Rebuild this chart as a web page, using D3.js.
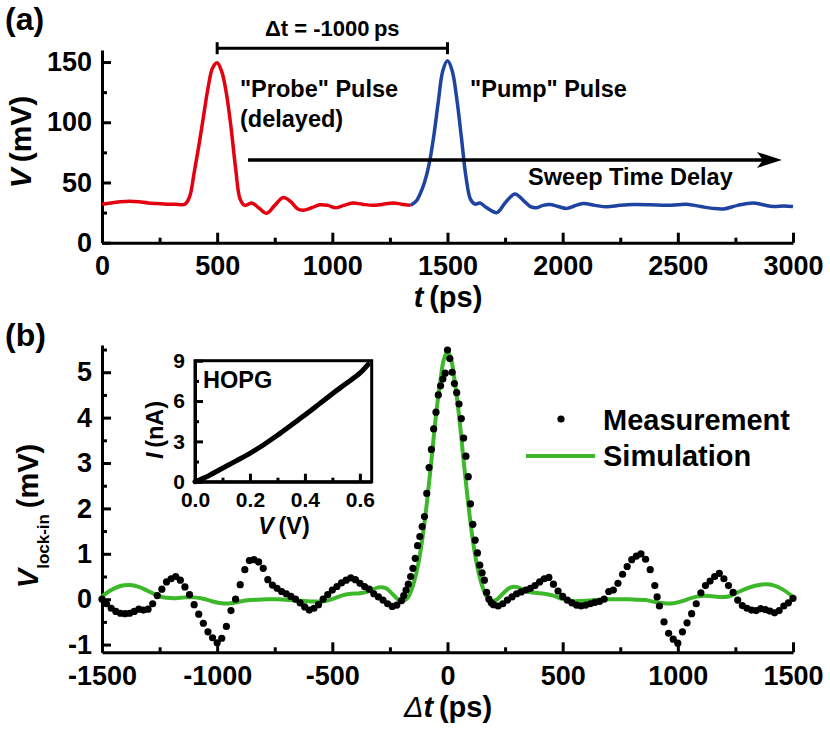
<!DOCTYPE html>
<html>
<head>
<meta charset="utf-8">
<script src="https://cdn.jsdelivr.net/npm/d3@7"></script>
<style>
  html, body { margin: 0; padding: 0; background: #fff; }
  svg { display: block; }
</style>
</head>
<body>
<script>
// ---------------- DATA ----------------
// Panel (a): oscilloscope trace, t (ps) vs V (mV)
const probeT = [0,40,80,120,160,200,240,280,320,360,380,400,420,440,460,480,500,520,540,560,580,600,620,650,680,715,750,787,820,850,873,910,946,980,1016,1050,1089,1130,1176,1220,1264,1300,1340];
const probeV = [32,33,34,34.5,34,33,32.5,32,32,32,38,58,80,104,128,145,149.5,142,124,96,62,36,31,33,29,24.5,31,37.5,34,28,27,29,31.5,31,29,31,33,32,31,32,33,32,31];
const pumpT = [1340,1366,1380,1400,1420,1440,1460,1480,1500,1520,1540,1560,1580,1600,1620,1641,1670,1714,1750,1793,1830,1860,1887,1915,1945,1980,2018,2050,2090,2140,2191,2250,2307,2380,2452,2500,2539,2600,2650,2698,2760,2827,2870,2914,2960,3000];
const pumpV = [31,35,40,50,65,88,117,143,151,143,120,88,55,36,32,33,29,25,33,40.5,35,30,29,31,31.7,30,28.5,30.5,32.5,31,29.8,31,31.7,31.5,31,31.5,32,30,28.5,28,31,33,31.5,30,30.5,30];

// Panel (b): lock-in measurement, Δt (ps) vs V (mV)
const measDt = [-1500,-1480,-1460,-1440,-1420,-1400,-1380,-1360,-1340,-1320,-1300,-1280,-1260,-1240,-1220,-1200,-1180,-1160,-1140,-1120,-1100,-1080,-1060,-1040,-1020,-1000,-980,-960,-940,-920,-900,-880,-860,-840,-820,-800,-780,-760,-740,-720,-700,-680,-660,-640,-620,-600,-580,-560,-540,-520,-500,-480,-460,-440,-420,-400,-380,-360,-340,-320,-300,-280,-260,-240,-220,-200,-190,-180,-170,-160,-150,-140,-130,-120,-110,-100,-90,-80,-70,-60,-50,-40,-30,-20,-10,0,10,20,30,40,50,60,70,80,90,100,110,120,130,140,150,160,170,180,190,200,220,240,260,280,300,320,340,360,380,400,420,440,460,480,500,520,540,560,580,600,620,640,660,680,700,720,740,760,780,800,820,840,860,880,900,910,920,940,960,980,1000,1020,1040,1060,1080,1100,1120,1140,1160,1180,1200,1220,1240,1260,1280,1300,1320,1340,1360,1380,1400,1420,1440,1460,1480,1500];
const measV = [0.0,-0.1,-0.2,-0.27,-0.31,-0.32,-0.31,-0.27,-0.22,-0.24,-0.22,-0.1,0.08,0.22,0.38,0.45,0.5,0.42,0.27,0.1,-0.12,-0.33,-0.53,-0.72,-0.85,-0.96,-0.86,-0.6,-0.25,0.0,0.32,0.65,0.85,0.87,0.82,0.68,0.43,0.31,0.24,0.17,0.12,0.06,0.0,-0.08,-0.17,-0.24,-0.2,-0.12,0.0,0.1,0.2,0.28,0.36,0.42,0.47,0.43,0.35,0.28,0.22,0.12,0.05,-0.02,-0.1,-0.16,-0.13,-0.03,0.08,0.2,0.33,0.5,0.68,0.9,1.18,1.38,1.6,1.82,2.33,2.9,3.3,3.75,4.12,4.5,4.7,4.85,4.98,5.49,5.3,5.0,4.75,4.55,4.3,3.98,3.55,3.15,2.7,2.1,1.65,1.3,1.02,0.75,0.58,0.42,0.15,0.0,-0.08,-0.12,-0.15,-0.1,-0.02,0.05,0.12,0.16,0.2,0.24,0.3,0.38,0.45,0.48,0.33,0.18,0.06,-0.02,-0.08,-0.13,-0.15,-0.13,-0.1,-0.07,-0.05,0.0,0.17,0.2,0.35,0.55,0.72,0.87,0.95,1.0,0.88,0.65,0.3,0.05,-0.15,-0.5,-0.75,-0.88,-0.97,-0.72,-0.52,-0.32,-0.1,0.14,0.3,0.4,0.5,0.57,0.45,0.3,0.15,-0.02,-0.14,-0.2,-0.24,-0.25,-0.21,-0.23,-0.26,-0.3,-0.25,-0.15,-0.08,0.02];

// Panel (b): simulation
const simDt = [-1500,-1460,-1420,-1380,-1340,-1300,-1260,-1220,-1180,-1140,-1100,-1060,-1020,-980,-940,-900,-860,-820,-780,-740,-700,-660,-620,-580,-540,-500,-460,-420,-380,-340,-300,-270,-240,-210,-190,-170,-150,-130,-110,-90,-70,-50,-30,-15,0,15,30,50,70,90,110,130,150,170,190,210,240,270,300,340,380,420,460,500,540,580,620,660,700,740,780,820,860,900,940,980,1020,1060,1100,1140,1180,1220,1260,1300,1340,1380,1420,1460,1500];
const simV = [0.06,0.2,0.29,0.31,0.27,0.18,0.08,0.03,0.02,0.04,0.04,0.01,-0.05,-0.09,-0.09,-0.05,-0.02,-0.01,0.0,0.0,-0.01,-0.03,-0.04,-0.05,-0.05,0.0,0.08,0.12,0.13,0.18,0.26,0.25,0.12,-0.02,-0.04,0.05,0.3,0.7,1.3,2.1,3.05,4.05,4.85,5.3,5.45,5.3,4.85,4.05,3.05,2.1,1.3,0.7,0.3,0.05,-0.04,-0.02,0.12,0.25,0.27,0.18,0.14,0.12,0.08,0.0,-0.04,-0.04,-0.03,-0.01,0.0,0.0,0.0,-0.01,-0.02,-0.06,-0.09,-0.09,-0.04,0.03,0.07,0.07,0.05,0.06,0.15,0.24,0.3,0.33,0.3,0.2,0.05];

// Inset: I-V of HOPG
const ivV = [0,0.05,0.1,0.15,0.2,0.25,0.3,0.35,0.4,0.45,0.5,0.55,0.6,0.63];
const ivI = [0,0.45,1.0,1.55,2.11,2.75,3.45,4.2,4.96,5.75,6.55,7.3,8.07,8.72];

// Tick values
const aXTicks = [0,500,1000,1500,2000,2500,3000];
const aXMinor = [250,750,1250,1750,2250,2750];
const aYTicks = [0,50,100,150];
const aYMinor = [25,75,125];
const bXTicks = [-1500,-1000,-500,0,500,1000,1500];
const bXMinor = [-1250,-750,-250,250,750,1250];
const bYTicks = [-1,0,1,2,3,4,5];
const bYMinor = [-0.5,0.5,1.5,2.5,3.5,4.5,5.5];
const iXTicks = [0,0.2,0.4,0.6];
const iXMinor = [0.1,0.3,0.5];
const iYTicks = [0,3,6,9];
const iYMinor = [1.5,4.5,7.5];

// ---------------- DRAW ----------------
const FONT = "'Liberation Sans', Arial, Helvetica, sans-serif";
const W = 830, H = 730;
const svg = d3.select("body").append("svg").attr("width", W).attr("height", H)
  .style("font-family", FONT).style("font-weight", "bold");
svg.append("rect").attr("width", W).attr("height", H).attr("fill", "#fff");

const xA = d3.scaleLinear().domain([0, 3000]).range([102, 793]);
const yA = d3.scaleLinear().domain([0, 160]).range([242.7, 50]);
const xB = d3.scaleLinear().domain([-1500, 1500]).range([102, 793]);
const yB = d3.scaleLinear().domain([-1.17, 5.6]).range([652.3, 345]);
const xI = d3.scaleLinear().domain([0, 0.643]).range([195, 371.7]);
const yI = d3.scaleLinear().domain([0, 9]).range([481.7, 360.7]);

const fmtInt = d => String(d);

function styleAxis(g, fs) {
  g.select(".domain").attr("stroke", "#000").attr("stroke-width", 3);
  g.selectAll(".tick line").attr("stroke", "#000").attr("stroke-width", 3);
  g.selectAll(".tick text").attr("fill", "#000").style("font-size", fs + "px")
    .style("font-family", FONT).style("font-weight", "bold");
}
function minor(g) {
  g.select(".domain").remove();
  g.selectAll(".tick line").attr("stroke", "#000").attr("stroke-width", 3);
}

// ---- Panel (a) axes ----
svg.append("g").attr("transform", `translate(0,${yA(0)})`)
  .call(d3.axisBottom(xA).tickValues(aXMinor).tickFormat("").tickSize(-5).tickSizeOuter(0)).call(minor);
svg.append("g").attr("transform", `translate(${xA(0)},0)`)
  .call(d3.axisLeft(yA).tickValues(aYMinor).tickFormat("").tickSize(-5).tickSizeOuter(0)).call(minor);
svg.append("g").attr("transform", `translate(0,${yA(0)})`)
  .call(d3.axisBottom(xA).tickValues(aXTicks).tickFormat(fmtInt).tickSize(-10).tickSizeOuter(0).tickPadding(13))
  .call(g => styleAxis(g, 27));
svg.append("g").attr("transform", `translate(${xA(0)},0)`)
  .call(d3.axisLeft(yA).tickValues(aYTicks).tickFormat(fmtInt).tickSize(-9).tickSizeOuter(0).tickPadding(10))
  .call(g => styleAxis(g, 27));

// ---- Panel (a) traces ----
const lineA = d3.line().x(d => xA(d[0])).y(d => yA(d[1])).curve(d3.curveCatmullRom.alpha(0.5));
svg.append("path").datum(probeT.map((t, i) => [t, probeV[i]]))
  .attr("d", lineA).attr("fill", "none").attr("stroke", "#e3000f").attr("stroke-width", 3.5)
  .attr("stroke-linejoin", "round");
svg.append("path").datum(pumpT.map((t, i) => [t, pumpV[i]]))
  .attr("d", lineA).attr("fill", "none").attr("stroke", "#1f43a0").attr("stroke-width", 3.5)
  .attr("stroke-linejoin", "round");

// ---- Panel (a) annotations ----
const brY = yA(161.5);
svg.append("line").attr("x1", xA(500)).attr("x2", xA(1500)).attr("y1", brY).attr("y2", brY)
  .attr("stroke", "#000").attr("stroke-width", 3);
[500, 1500].forEach(t => svg.append("line").attr("x1", xA(t)).attr("x2", xA(t))
  .attr("y1", brY - 6).attr("y2", brY + 6).attr("stroke", "#000").attr("stroke-width", 3));
svg.append("text").attr("x", xA(1000)).attr("y", 36).attr("text-anchor", "middle")
  .style("font-size", "22px").text("\u0394t = -1000\u2009ps");

svg.append("text").attr("x", xA(599)).attr("y", yA(121)).style("font-size", "23.5px").text('"Probe" Pulse');
svg.append("text").attr("x", xA(599)).attr("y", yA(96)).style("font-size", "23.5px").text('(delayed)');
svg.append("text").attr("x", xA(1598)).attr("y", yA(121)).style("font-size", "23.5px").text('"Pump" Pulse');
svg.append("text").attr("x", xA(1850)).attr("y", yA(47.5)).style("font-size", "23.5px").text('Sweep Time Delay');

const arY = yA(68.7);
const arX0 = xA(634), arTip = xA(2952);
svg.append("line").attr("x1", arX0).attr("x2", arTip - 10).attr("y1", arY).attr("y2", arY)
  .attr("stroke", "#000").attr("stroke-width", 3.5);
svg.append("path")
  .attr("d", `M${arTip},${arY} L${arTip - 25},${arY - 8} L${arTip - 19},${arY} L${arTip - 25},${arY + 8} Z`)
  .attr("fill", "#000");

// labels panel (a)
svg.append("text").attr("x", 5).attr("y", 30).style("font-size", "32px").text("(a)");
const yla = svg.append("text").attr("transform", "translate(31,142) rotate(-90)")
  .attr("text-anchor", "middle").style("font-size", "30px");
yla.append("tspan").style("font-style", "italic").text("V");
yla.append("tspan").text("\u2009(mV)");
const xla = svg.append("text").attr("x", 448).attr("y", 307).attr("text-anchor", "middle").style("font-size", "29px");
xla.append("tspan").style("font-style", "italic").text("t");
xla.append("tspan").text("\u2009(ps)");

// ---- Panel (b) axes ----
svg.append("g").attr("transform", `translate(0,${yB.range()[0]})`)
  .call(d3.axisBottom(xB).tickValues(bXMinor).tickFormat("").tickSize(-5).tickSizeOuter(0)).call(minor);
svg.append("g").attr("transform", `translate(${xB(-1500)},0)`)
  .call(d3.axisLeft(yB).tickValues(bYMinor).tickFormat("").tickSize(-5).tickSizeOuter(0)).call(minor);
svg.append("g").attr("transform", `translate(0,${yB.range()[0]})`)
  .call(d3.axisBottom(xB).tickValues(bXTicks).tickFormat(fmtInt).tickSize(-10).tickSizeOuter(0).tickPadding(14))
  .call(g => styleAxis(g, 27));
svg.append("g").attr("transform", `translate(${xB(-1500)},0)`)
  .call(d3.axisLeft(yB).tickValues(bYTicks).tickFormat(fmtInt).tickSize(-9).tickSizeOuter(0).tickPadding(10))
  .call(g => styleAxis(g, 27));

// ---- Panel (b) series ----
const lineB = d3.line().x(d => xB(d[0])).y(d => yB(d[1])).curve(d3.curveCatmullRom.alpha(0.5));
svg.append("path").datum(simDt.map((t, i) => [t, simV[i]]))
  .attr("d", lineB).attr("fill", "none").attr("stroke", "#3cb82a").attr("stroke-width", 4)
  .attr("stroke-linejoin", "round");
svg.append("g").selectAll("circle").data(measDt.map((t, i) => [t, measV[i]])).join("circle")
  .attr("cx", d => xB(d[0])).attr("cy", d => yB(d[1])).attr("r", 3.6).attr("fill", "#000");

// legend
svg.append("circle").attr("cx", 561).attr("cy", 419).attr("r", 3.6).attr("fill", "#000");
svg.append("text").attr("x", 603).attr("y", 430).style("font-size", "29px").text("Measurement");
svg.append("line").attr("x1", 526).attr("x2", 595).attr("y1", 456).attr("y2", 456)
  .attr("stroke", "#3cb82a").attr("stroke-width", 4);
svg.append("text").attr("x", 603).attr("y", 466).style("font-size", "29px").text("Simulation");

// labels panel (b)
svg.append("text").attr("x", 5).attr("y", 346).style("font-size", "32px").text("(b)");
const ylb = svg.append("text").attr("transform", "translate(38,516) rotate(-90)")
  .attr("text-anchor", "middle").style("font-size", "29px");
ylb.append("tspan").style("font-style", "italic").text("V");
ylb.append("tspan").attr("dy", 11).style("font-size", "17px").text("lock-in");
ylb.append("tspan").attr("dy", -11).text("\u2009(mV)");
const xlb = svg.append("text").attr("x", 448).attr("y", 717).attr("text-anchor", "middle").style("font-size", "29px");
xlb.append("tspan").style("font-style", "italic").style("font-weight", "normal").text("\u0394");
xlb.append("tspan").style("font-style", "italic").text("t");
xlb.append("tspan").text("\u2009(ps)");

// ---- Inset ----
const ins = svg.append("g");
ins.append("rect").attr("x", xI(0)).attr("y", yI(9)).attr("width", xI(0.643) - xI(0)).attr("height", yI(0) - yI(9))
  .attr("fill", "#fff");
ins.append("g").attr("transform", `translate(0,${yI(0)})`)
  .call(d3.axisBottom(xI).tickValues(iXMinor).tickFormat("").tickSize(-4).tickSizeOuter(0)).call(minor);
ins.append("g").attr("transform", `translate(${xI(0)},0)`)
  .call(d3.axisLeft(yI).tickValues(iYMinor).tickFormat("").tickSize(-4).tickSizeOuter(0)).call(minor);
ins.append("g").attr("transform", `translate(0,${yI(0)})`)
  .call(d3.axisBottom(xI).tickValues(iXTicks).tickFormat(d => d.toFixed(1)).tickSize(-8).tickSizeOuter(0).tickPadding(10))
  .call(g => styleAxis(g, 21));
ins.append("g").attr("transform", `translate(${xI(0)},0)`)
  .call(d3.axisLeft(yI).tickValues(iYTicks).tickFormat(fmtInt).tickSize(-8).tickSizeOuter(0).tickPadding(10))
  .call(g => styleAxis(g, 21));
ins.append("rect").attr("x", xI(0)).attr("y", yI(9)).attr("width", xI(0.643) - xI(0)).attr("height", yI(0) - yI(9))
  .attr("fill", "none").attr("stroke", "#000").attr("stroke-width", 3);
ins.append("path").datum(ivV.map((v, i) => [v, ivI[i]]))
  .attr("d", d3.line().x(d => xI(d[0])).y(d => yI(d[1])).curve(d3.curveCatmullRom))
  .attr("fill", "none").attr("stroke", "#000").attr("stroke-width", 5).attr("stroke-linecap", "round");
ins.append("text").attr("x", 203).attr("y", 388).style("font-size", "23.5px").text("HOPG");
const yli = ins.append("text").attr("transform", "translate(163,430) rotate(-90)")
  .attr("text-anchor", "middle").style("font-size", "23.5px");
yli.append("tspan").style("font-style", "italic").text("I");
yli.append("tspan").text("\u2009(nA)");
const xli = ins.append("text").attr("x", 284).attr("y", 534).attr("text-anchor", "middle").style("font-size", "23.5px");
xli.append("tspan").style("font-style", "italic").text("V");
xli.append("tspan").text("\u2009(V)");
</script>
</body>
</html>
